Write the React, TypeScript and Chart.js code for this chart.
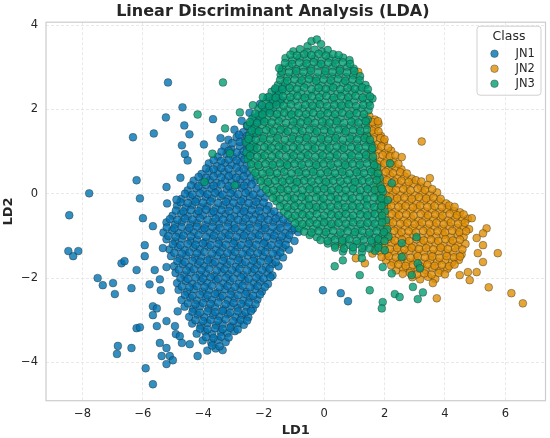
import { useEffect, useRef } from 'react'
import { Chart, registerables } from 'chart.js'

Chart.register(...registerables)

type Pt = [number, number]

const classNames = ['JN1', 'JN2', 'JN3']
const classColors = ['rgba(1, 115, 178, 0.8)', 'rgba(222, 143, 5, 0.8)', 'rgba(2, 158, 115, 0.8)']
const xTicks = [-8, -6, -4, -2, 0, 2, 4, 6]
const yTicks = [-4, -2, 0, 2, 4]

// JN1 - dense diagonal cloud on the left
const jn1Core: Pt[] = [
  [-1.62, 2.47], [-1.38, 2.53],
  [-1.88, 2.28], [-1.6, 2.34], [-1.42, 2.22],
  [-2.12, 2.13], [-1.86, 2.06], [-1.64, 2.15],
  [-2.47, 1.92], [-2.18, 1.87], [-1.96, 1.95],
  [-2.73, 1.73], [-2.44, 1.66], [-2.19, 1.72],
  [-2.97, 1.52], [-2.68, 1.46], [-2.45, 1.55], [-2.2, 1.48],
  [-3.17, 1.28], [-2.9, 1.34], [-2.63, 1.27], [-2.41, 1.33],
  [-3.3, 1.12], [-3.07, 1.06], [-2.8, 1.13], [-2.56, 1.08], [-2.3, 1.12],
  [-3.52, 0.88], [-3.24, 0.94], [-3.01, 0.87], [-2.74, 0.92], [-2.5, 0.86],
  [-3.82, 0.72], [-3.55, 0.66], [-3.29, 0.73], [-3.06, 0.68], [-2.79, 0.74], [-2.56, 0.67],
  [-4.06, 0.47], [-3.81, 0.53], [-3.53, 0.48], [-3.3, 0.52], [-3.04, 0.46], [-2.81, 0.54], [-2.55, 0.49],
  [-4.32, 0.31], [-4.04, 0.27], [-3.79, 0.33], [-3.56, 0.26], [-3.28, 0.32], [-3.06, 0.28], [-2.79, 0.34], [-2.56, 0.27], [-2.29, 0.31],
  [-4.52, 0.08], [-4.24, 0.13], [-4.01, 0.07], [-3.74, 0.12], [-3.51, 0.06], [-3.23, 0.11], [-3.02, 0.09], [-2.74, 0.14], [-2.51, 0.07], [-2.24, 0.12],
  [-4.72, -0.12], [-4.44, -0.07], [-4.21, -0.13], [-3.93, -0.08], [-3.71, -0.11], [-3.44, -0.06], [-3.19, -0.12], [-2.96, -0.08], [-2.68, -0.13], [-2.46, -0.07], [-2.19, -0.11], [-1.96, -0.09],
  [-4.87, -0.28], [-4.59, -0.33], [-4.36, -0.27], [-4.08, -0.32], [-3.86, -0.29], [-3.59, -0.34], [-3.34, -0.27], [-3.11, -0.31], [-2.83, -0.28], [-2.61, -0.33], [-2.34, -0.27], [-2.11, -0.32], [-1.84, -0.29],
  [-5.02, -0.52], [-4.74, -0.47], [-4.51, -0.53], [-4.23, -0.48], [-4.01, -0.51], [-3.74, -0.46], [-3.49, -0.52], [-3.26, -0.48], [-2.98, -0.53], [-2.76, -0.47], [-2.49, -0.51], [-2.26, -0.49], [-1.98, -0.54], [-1.76, -0.47], [-1.49, -0.52],
  [-5.22, -0.68], [-4.94, -0.73], [-4.71, -0.67], [-4.43, -0.72], [-4.21, -0.69], [-3.94, -0.74], [-3.69, -0.67], [-3.46, -0.71], [-3.18, -0.68], [-2.96, -0.73], [-2.69, -0.67], [-2.46, -0.72], [-2.18, -0.69], [-1.96, -0.74], [-1.69, -0.67], [-1.46, -0.71], [-1.21, -0.68],
  [-5.32, -0.92], [-5.04, -0.87], [-4.81, -0.93], [-4.53, -0.88], [-4.31, -0.91], [-4.04, -0.86], [-3.79, -0.92], [-3.56, -0.88], [-3.28, -0.93], [-3.06, -0.87], [-2.79, -0.91], [-2.56, -0.89], [-2.28, -0.94], [-2.06, -0.87], [-1.79, -0.92], [-1.56, -0.88], [-1.29, -0.93], [-1.06, -0.87], [-0.86, -0.91],
  [-5.22, -1.08], [-4.94, -1.13], [-4.71, -1.07], [-4.43, -1.12], [-4.21, -1.09], [-3.94, -1.14], [-3.69, -1.07], [-3.46, -1.11], [-3.18, -1.08], [-2.96, -1.13], [-2.69, -1.07], [-2.46, -1.12], [-2.18, -1.09], [-1.96, -1.14], [-1.69, -1.07], [-1.46, -1.11], [-1.21, -1.08], [-0.98, -1.12],
  [-5.12, -1.32], [-4.84, -1.27], [-4.61, -1.33], [-4.33, -1.28], [-4.11, -1.31], [-3.84, -1.26], [-3.59, -1.32], [-3.36, -1.28], [-3.08, -1.33], [-2.86, -1.27], [-2.59, -1.31], [-2.36, -1.29], [-2.08, -1.34], [-1.86, -1.27], [-1.59, -1.32], [-1.36, -1.28], [-1.16, -1.33],
  [-5.07, -1.48], [-4.79, -1.53], [-4.56, -1.47], [-4.28, -1.52], [-4.06, -1.49], [-3.79, -1.54], [-3.54, -1.47], [-3.31, -1.51], [-3.03, -1.48], [-2.81, -1.53], [-2.54, -1.47], [-2.31, -1.52], [-2.03, -1.49], [-1.81, -1.54], [-1.54, -1.47], [-1.36, -1.51],
  [-4.97, -1.72], [-4.69, -1.67], [-4.46, -1.73], [-4.18, -1.68], [-3.96, -1.71], [-3.69, -1.66], [-3.44, -1.72], [-3.21, -1.68], [-2.93, -1.73], [-2.71, -1.67], [-2.44, -1.71], [-2.21, -1.69], [-1.93, -1.74], [-1.71, -1.67], [-1.51, -1.72],
  [-4.92, -1.88], [-4.64, -1.93], [-4.41, -1.87], [-4.13, -1.92], [-3.91, -1.89], [-3.64, -1.94], [-3.39, -1.87], [-3.16, -1.91], [-2.88, -1.88], [-2.66, -1.93], [-2.39, -1.87], [-2.16, -1.92], [-1.88, -1.89], [-1.71, -1.94],
  [-4.87, -2.12], [-4.59, -2.07], [-4.36, -2.13], [-4.08, -2.08], [-3.86, -2.11], [-3.59, -2.06], [-3.34, -2.12], [-3.11, -2.08], [-2.83, -2.13], [-2.61, -2.07], [-2.34, -2.11], [-2.11, -2.09], [-1.86, -2.14],
  [-4.82, -2.28], [-4.54, -2.33], [-4.31, -2.27], [-4.03, -2.32], [-3.81, -2.29], [-3.54, -2.34], [-3.29, -2.27], [-3.06, -2.31], [-2.78, -2.28], [-2.56, -2.33], [-2.29, -2.27], [-2.06, -2.32],
  [-4.72, -2.52], [-4.44, -2.47], [-4.21, -2.53], [-3.93, -2.48], [-3.71, -2.51], [-3.44, -2.46], [-3.19, -2.52], [-2.96, -2.48], [-2.68, -2.53], [-2.46, -2.47], [-2.21, -2.51],
  [-4.62, -2.68], [-4.34, -2.73], [-4.11, -2.67], [-3.83, -2.72], [-3.61, -2.69], [-3.34, -2.74], [-3.09, -2.67], [-2.86, -2.71], [-2.58, -2.68], [-2.36, -2.73],
  [-4.47, -2.92], [-4.19, -2.87], [-3.96, -2.93], [-3.68, -2.88], [-3.46, -2.91], [-3.19, -2.86], [-2.94, -2.92], [-2.71, -2.88], [-2.51, -2.93],
  [-4.37, -3.08], [-4.09, -3.13], [-3.86, -3.07], [-3.58, -3.12], [-3.36, -3.09], [-3.09, -3.14], [-2.84, -3.07], [-2.66, -3.11],
  [-4.22, -3.32], [-3.94, -3.27], [-3.71, -3.33], [-3.43, -3.28], [-3.21, -3.31], [-2.96, -3.26],
  [-4.02, -3.48], [-3.74, -3.53], [-3.51, -3.47], [-3.26, -3.52],
  [-3.87, -3.72], [-3.59, -3.67], [-3.36, -3.71],
]

const jn1Fill: Pt[] = [
  [-1.5, 2.4], [-1.75, 2.21], [-1.52, 2.18], [-2.0, 2.0], [-1.76, 1.97], [-2.31, 1.8], [-2.06, 1.77],
  [-2.56, 1.61], [-2.32, 1.58], [-2.82, 1.4], [-2.56, 1.37], [-2.31, 1.41], [-3.05, 1.2], [-2.79, 1.23], [-2.54, 1.19],
  [-3.4, 1.0], [-3.16, 1.02], [-2.9, 0.98], [-2.66, 1.01], [-2.41, 0.97],
  [-3.66, 0.8], [-3.41, 0.78], [-3.16, 0.81], [-2.9, 0.79], [-2.64, 0.82],
  [-3.91, 0.6], [-3.66, 0.58], [-3.41, 0.61], [-3.16, 0.59], [-2.9, 0.62], [-2.66, 0.58],
  [-4.16, 0.4], [-3.91, 0.38], [-3.66, 0.41], [-3.41, 0.39], [-3.16, 0.42], [-2.91, 0.38], [-2.66, 0.41], [-2.41, 0.39],
  [-4.41, 0.2], [-4.16, 0.18], [-3.91, 0.21], [-3.66, 0.19], [-3.41, 0.22], [-3.16, 0.18], [-2.9, 0.21], [-2.65, 0.19], [-2.4, 0.22],
  [-4.61, 0.0], [-4.36, -0.02], [-4.11, 0.01], [-3.86, -0.01], [-3.61, 0.02], [-3.36, -0.02], [-3.1, 0.01], [-2.85, -0.01], [-2.6, 0.02], [-2.35, -0.02], [-2.1, 0.01],
  [-4.76, -0.2], [-4.51, -0.22], [-4.26, -0.19], [-4.01, -0.21], [-3.76, -0.18], [-3.51, -0.22], [-3.25, -0.19], [-3.0, -0.21], [-2.75, -0.18], [-2.5, -0.22], [-2.25, -0.19], [-2.0, -0.21],
  [-4.91, -0.4], [-4.66, -0.42], [-4.41, -0.39], [-4.16, -0.41], [-3.91, -0.38], [-3.66, -0.42], [-3.4, -0.39], [-3.15, -0.41], [-2.9, -0.38], [-2.65, -0.42], [-2.4, -0.39], [-2.15, -0.41], [-1.9, -0.38], [-1.65, -0.42],
  [-5.11, -0.6], [-4.86, -0.62], [-4.61, -0.59], [-4.36, -0.61], [-4.11, -0.58], [-3.86, -0.62], [-3.6, -0.59], [-3.35, -0.61], [-3.1, -0.58], [-2.85, -0.62], [-2.6, -0.59], [-2.35, -0.61], [-2.1, -0.58], [-1.85, -0.62], [-1.6, -0.59], [-1.35, -0.61],
  [-5.21, -0.8], [-4.96, -0.82], [-4.71, -0.79], [-4.46, -0.81], [-4.21, -0.78], [-3.96, -0.82], [-3.7, -0.79], [-3.45, -0.81], [-3.2, -0.78], [-2.95, -0.82], [-2.7, -0.79], [-2.45, -0.81], [-2.2, -0.78], [-1.95, -0.82], [-1.7, -0.79], [-1.45, -0.81], [-1.2, -0.78], [-0.98, -0.82],
  [-5.16, -1.0], [-4.91, -1.02], [-4.66, -0.99], [-4.41, -1.01], [-4.16, -0.98], [-3.91, -1.02], [-3.65, -0.99], [-3.4, -1.01], [-3.15, -0.98], [-2.9, -1.02], [-2.65, -0.99], [-2.4, -1.01], [-2.15, -0.98], [-1.9, -1.02], [-1.65, -0.99], [-1.4, -1.01], [-1.15, -0.98],
  [-5.01, -1.2], [-4.76, -1.22], [-4.51, -1.19], [-4.26, -1.21], [-4.01, -1.18], [-3.76, -1.22], [-3.5, -1.19], [-3.25, -1.21], [-3.0, -1.18], [-2.75, -1.22], [-2.5, -1.19], [-2.25, -1.21], [-2.0, -1.18], [-1.75, -1.22], [-1.5, -1.19], [-1.27, -1.21],
  [-4.96, -1.4], [-4.71, -1.42], [-4.46, -1.39], [-4.21, -1.41], [-3.96, -1.38], [-3.71, -1.42], [-3.45, -1.39], [-3.2, -1.41], [-2.95, -1.38], [-2.7, -1.42], [-2.45, -1.39], [-2.2, -1.41], [-1.95, -1.38], [-1.7, -1.42], [-1.45, -1.39],
  [-4.86, -1.6], [-4.61, -1.62], [-4.36, -1.59], [-4.11, -1.61], [-3.86, -1.58], [-3.61, -1.62], [-3.35, -1.59], [-3.1, -1.61], [-2.85, -1.58], [-2.6, -1.62], [-2.35, -1.59], [-2.1, -1.61], [-1.85, -1.58], [-1.6, -1.62],
  [-4.81, -1.8], [-4.56, -1.82], [-4.31, -1.79], [-4.06, -1.81], [-3.81, -1.78], [-3.56, -1.82], [-3.3, -1.79], [-3.05, -1.81], [-2.8, -1.78], [-2.55, -1.82], [-2.3, -1.79], [-2.05, -1.81], [-1.8, -1.78],
  [-4.76, -2.0], [-4.51, -2.02], [-4.26, -1.99], [-4.01, -2.01], [-3.76, -1.98], [-3.51, -2.02], [-3.25, -1.99], [-3.0, -2.01], [-2.75, -1.98], [-2.5, -2.02], [-2.25, -1.99], [-2.0, -2.01], [-1.78, -1.98],
  [-4.71, -2.2], [-4.46, -2.22], [-4.21, -2.19], [-3.96, -2.21], [-3.71, -2.18], [-3.46, -2.22], [-3.2, -2.19], [-2.95, -2.21], [-2.7, -2.18], [-2.45, -2.22], [-2.2, -2.19], [-1.96, -2.21],
  [-4.61, -2.4], [-4.36, -2.42], [-4.11, -2.39], [-3.86, -2.41], [-3.61, -2.38], [-3.36, -2.42], [-3.1, -2.39], [-2.85, -2.41], [-2.6, -2.38], [-2.35, -2.42], [-2.12, -2.39],
  [-4.51, -2.6], [-4.26, -2.62], [-4.01, -2.59], [-3.76, -2.61], [-3.51, -2.58], [-3.26, -2.62], [-3.0, -2.59], [-2.75, -2.61], [-2.5, -2.58], [-2.27, -2.62],
  [-4.36, -2.8], [-4.11, -2.82], [-3.86, -2.79], [-3.61, -2.81], [-3.36, -2.78], [-3.11, -2.82], [-2.85, -2.79], [-2.6, -2.81], [-2.42, -2.78],
  [-4.26, -3.0], [-4.01, -3.02], [-3.76, -2.99], [-3.51, -3.01], [-3.26, -2.98], [-3.01, -3.02], [-2.76, -2.99], [-2.55, -3.01],
  [-4.11, -3.2], [-3.86, -3.22], [-3.61, -3.19], [-3.36, -3.21], [-3.11, -3.18], [-2.86, -3.22],
  [-3.91, -3.4], [-3.66, -3.42], [-3.41, -3.39], [-3.16, -3.41], [-3.71, -3.6], [-3.46, -3.62],
]

const jn1Outliers: Pt[] = [
  [-5.17, 2.64], [-4.69, 2.05], [-5.24, 1.81], [-4.63, 1.62], [-4.46, 1.41], [-6.33, 1.34], [-5.64, 1.43],
  [-4.71, 1.15], [-4.61, 0.94], [-4.52, 0.79], [-3.68, 1.77], [-3.43, 1.32], [-3.98, 1.17],
  [-7.78, 0.01], [-6.21, 0.32], [-5.22, 0.16], [-4.76, 0.38], [-6.1, -0.11], [-5.2, -0.23], [-4.89, -0.14],
  [-8.44, -0.51], [-6.0, -0.58], [-5.67, -0.77], [-5.94, -1.22], [-5.94, -1.48], [-5.34, -1.29],
  [-8.47, -1.36], [-8.31, -1.48], [-8.14, -1.36], [-6.71, -1.65], [-6.61, -1.6], [-6.21, -1.81],
  [-7.5, -2.0], [-7.33, -2.17], [-6.99, -2.12], [-6.93, -2.38], [-6.38, -2.24], [-5.78, -2.15],
  [-5.61, -1.81], [-5.41, -2.29], [-5.44, -2.03], [-5.22, -1.74], [-5.67, -2.67], [-5.54, -2.72],
  [-5.67, -2.88], [-4.85, -2.79], [-6.21, -3.19], [-6.1, -3.17], [-5.54, -3.14], [-5.22, -3.02],
  [-4.94, -3.14], [-4.91, -3.33], [-4.78, -3.38], [-4.71, -3.54], [-4.45, -3.57], [-5.44, -3.54],
  [-5.22, -3.66], [-5.38, -3.85], [-5.11, -3.85], [-5.01, -3.95], [-5.22, -4.04], [-6.83, -3.61],
  [-6.86, -3.8], [-6.38, -3.66], [-5.91, -4.14], [-5.67, -4.52], [-4.19, -3.85],
  [-0.04, -2.29], [0.55, -2.36], [0.79, -2.55],
]

// JN2 - cloud on the right
const jn2Core: Pt[] = [
  [1.5, 1.84], [1.68, 1.76],
  [1.45, 1.63], [1.7, 1.58], [1.8, 1.66],
  [1.42, 1.38], [1.66, 1.43], [1.88, 1.37],
  [1.5, 1.22], [1.74, 1.17], [1.98, 1.23],
  [1.55, 0.98], [1.79, 1.03], [2.03, 0.97], [2.22, 1.02],
  [1.6, 0.82], [1.84, 0.77], [2.08, 0.83], [2.3, 0.78],
  [1.65, 0.58], [1.89, 0.63], [2.13, 0.57], [2.37, 0.62], [2.56, 0.58],
  [1.7, 0.42], [1.94, 0.37], [2.18, 0.43], [2.42, 0.38], [2.67, 0.41], [2.9, 0.36],
  [1.75, 0.18], [1.99, 0.23], [2.23, 0.17], [2.47, 0.22], [2.72, 0.19], [2.96, 0.24], [3.2, 0.17], [3.42, 0.21],
  [1.8, 0.02], [2.04, -0.03], [2.28, 0.03], [2.52, -0.02], [2.77, 0.01], [3.01, -0.04], [3.26, 0.02], [3.5, -0.02], [3.74, 0.03],
  [1.85, -0.18], [2.09, -0.23], [2.33, -0.17], [2.57, -0.22], [2.82, -0.19], [3.06, -0.24], [3.31, -0.17], [3.55, -0.21], [3.8, -0.18], [4.04, -0.23],
  [1.88, -0.42], [2.12, -0.37], [2.36, -0.43], [2.6, -0.38], [2.85, -0.41], [3.09, -0.36], [3.34, -0.42], [3.58, -0.38], [3.83, -0.43], [4.07, -0.37], [4.3, -0.41], [4.5, -0.44],
  [1.92, -0.58], [2.16, -0.63], [2.4, -0.57], [2.64, -0.62], [2.89, -0.59], [3.13, -0.64], [3.38, -0.57], [3.62, -0.61], [3.87, -0.58], [4.11, -0.63], [4.35, -0.57], [4.58, -0.62], [4.76, -0.59],
  [1.96, -0.82], [2.2, -0.77], [2.44, -0.83], [2.68, -0.78], [2.93, -0.81], [3.17, -0.76], [3.42, -0.82], [3.66, -0.78], [3.91, -0.83], [4.15, -0.77], [4.4, -0.81], [4.62, -0.79], [4.8, -0.84],
  [2.0, -0.98], [2.24, -1.03], [2.48, -0.97], [2.72, -1.02], [2.97, -0.99], [3.21, -1.04], [3.46, -0.97], [3.7, -1.01], [3.95, -0.98], [4.19, -1.03], [4.43, -0.97], [4.62, -1.02],
  [1.75, -1.18], [1.99, -1.23], [2.23, -1.17], [2.47, -1.22], [2.72, -1.19], [2.96, -1.24], [3.21, -1.17], [3.45, -1.21], [3.7, -1.18], [3.94, -1.23], [4.19, -1.17], [4.43, -1.22], [4.68, -1.19],
  [1.6, -1.42], [1.84, -1.37], [2.08, -1.43], [2.32, -1.38], [2.57, -1.41], [2.81, -1.36], [3.06, -1.42], [3.3, -1.38], [3.55, -1.43], [3.79, -1.37], [4.04, -1.41], [4.28, -1.39], [4.55, -1.44],
  [2.05, -1.58], [2.29, -1.63], [2.53, -1.57], [2.77, -1.62], [3.02, -1.59], [3.26, -1.64], [3.51, -1.57], [3.75, -1.61], [4.0, -1.58], [4.24, -1.63], [4.46, -1.57],
  [2.38, -1.82], [2.62, -1.77], [2.86, -1.83], [3.1, -1.78], [3.35, -1.81], [3.59, -1.76], [3.84, -1.82], [4.08, -1.78],
  [2.92, -1.98], [3.18, -2.03], [3.44, -1.97], [3.68, -2.02],
]

const jn2Fill: Pt[] = [
  [1.6, 1.7], [1.78, 1.72], [1.58, 1.5], [1.8, 1.48], [1.62, 1.3], [1.86, 1.32], [2.0, 1.29],
  [1.66, 1.1], [1.9, 1.12], [2.12, 1.09], [1.7, 0.9], [1.94, 0.92], [2.18, 0.89], [2.36, 0.91],
  [1.76, 0.7], [2.0, 0.72], [2.24, 0.69], [2.46, 0.71],
  [1.8, 0.5], [2.04, 0.52], [2.28, 0.49], [2.52, 0.51], [2.74, 0.48],
  [1.84, 0.3], [2.08, 0.32], [2.32, 0.29], [2.56, 0.31], [2.8, 0.28], [3.04, 0.32], [3.22, 0.29],
  [1.9, 0.1], [2.14, 0.12], [2.38, 0.09], [2.62, 0.11], [2.86, 0.08], [3.1, 0.12], [3.34, 0.09], [3.58, 0.11],
  [1.94, -0.1], [2.18, -0.08], [2.42, -0.11], [2.66, -0.09], [2.9, -0.12], [3.14, -0.08], [3.38, -0.11], [3.62, -0.09], [3.86, -0.12],
  [1.98, -0.3], [2.22, -0.28], [2.46, -0.31], [2.7, -0.29], [2.94, -0.32], [3.18, -0.28], [3.42, -0.31], [3.66, -0.29], [3.9, -0.32], [4.14, -0.28], [4.32, -0.31],
  [2.0, -0.5], [2.24, -0.48], [2.48, -0.51], [2.72, -0.49], [2.96, -0.52], [3.2, -0.48], [3.44, -0.51], [3.68, -0.49], [3.92, -0.52], [4.16, -0.48], [4.4, -0.51], [4.62, -0.49],
  [2.04, -0.7], [2.28, -0.68], [2.52, -0.71], [2.76, -0.69], [3.0, -0.72], [3.24, -0.68], [3.48, -0.71], [3.72, -0.69], [3.96, -0.72], [4.2, -0.68], [4.44, -0.71], [4.66, -0.69],
  [2.08, -0.9], [2.32, -0.88], [2.56, -0.91], [2.8, -0.89], [3.04, -0.92], [3.28, -0.88], [3.52, -0.91], [3.76, -0.89], [4.0, -0.92], [4.24, -0.88], [4.48, -0.91], [4.7, -0.89],
  [1.86, -1.1], [2.1, -1.08], [2.34, -1.11], [2.58, -1.09], [2.82, -1.12], [3.06, -1.08], [3.3, -1.11], [3.54, -1.09], [3.78, -1.12], [4.02, -1.08], [4.26, -1.11], [4.5, -1.09],
  [1.7, -1.3], [1.94, -1.28], [2.18, -1.31], [2.42, -1.29], [2.66, -1.32], [2.9, -1.28], [3.14, -1.31], [3.38, -1.29], [3.62, -1.32], [3.86, -1.28], [4.1, -1.31], [4.34, -1.29], [4.58, -1.32],
  [1.9, -1.5], [2.14, -1.48], [2.38, -1.51], [2.62, -1.49], [2.86, -1.52], [3.1, -1.48], [3.34, -1.51], [3.58, -1.49], [3.82, -1.52], [4.06, -1.48], [4.3, -1.51], [4.5, -1.49],
  [2.22, -1.7], [2.46, -1.68], [2.7, -1.71], [2.94, -1.69], [3.18, -1.72], [3.42, -1.68], [3.66, -1.71], [3.9, -1.69], [4.14, -1.72], [4.32, -1.68],
  [2.6, -1.9], [2.84, -1.88], [3.08, -1.91], [3.32, -1.89], [3.56, -1.92], [3.8, -1.88], [4.0, -1.91],
]

const jn2Outliers: Pt[] = [
  [1.13, 2.89], [3.23, 1.24], [2.57, 0.87], [3.5, 0.37], [4.89, -0.58], [5.38, -0.82], [5.26, -0.94],
  [5.05, -1.05], [5.26, -1.22], [5.75, -1.41], [5.09, -1.41], [5.26, -1.62], [5.05, -1.86], [4.76, -1.86],
  [4.49, -1.93], [4.82, -2.05], [5.45, -2.22], [6.2, -2.36], [6.58, -2.6], [3.73, -2.48], [3.6, -2.12],
  [0.58, -1.2], [1.05, -1.53], [1.35, -1.65],
]

// JN3 - central cloud, drawn on top
const jn3Core: Pt[] = [
  [-0.55, 3.5], [-0.42, 3.62], [-0.24, 3.66], [-0.1, 3.55],
  [-1.02, 3.38], [-0.8, 3.43], [-0.56, 3.36], [-0.31, 3.42], [-0.07, 3.37], [0.12, 3.41],
  [-1.28, 3.22], [-1.05, 3.17], [-0.81, 3.23], [-0.57, 3.18], [-0.32, 3.21], [-0.08, 3.16], [0.17, 3.22], [0.41, 3.18], [0.63, 3.23], [0.84, 3.17],
  [-1.38, 2.97], [-1.16, 3.02], [-0.93, 2.96], [-0.69, 3.01], [-0.44, 2.98], [-0.2, 3.03], [0.04, 2.97], [0.29, 3.02], [0.53, 2.96], [0.77, 3.01], [0.98, 2.97],
  [-1.44, 2.82], [-1.21, 2.77], [-0.97, 2.83], [-0.73, 2.78], [-0.48, 2.81], [-0.24, 2.76], [0.01, 2.82], [0.25, 2.78], [0.49, 2.83], [0.73, 2.77], [0.97, 2.81], [1.19, 2.79],
  [-1.53, 2.58], [-1.3, 2.63], [-1.06, 2.57], [-0.82, 2.62], [-0.58, 2.59], [-0.33, 2.64], [-0.09, 2.57], [0.16, 2.61], [0.4, 2.58], [0.64, 2.63], [0.88, 2.57], [1.13, 2.62], [1.37, 2.58],
  [-1.74, 2.42], [-1.5, 2.37], [-1.26, 2.43], [-1.02, 2.38], [-0.77, 2.41], [-0.53, 2.36], [-0.28, 2.42], [-0.04, 2.38], [0.21, 2.43], [0.45, 2.37], [0.69, 2.41], [0.94, 2.39], [1.18, 2.44], [1.43, 2.37],
  [-1.93, 2.18], [-1.69, 2.23], [-1.45, 2.17], [-1.21, 2.22], [-0.96, 2.19], [-0.72, 2.24], [-0.47, 2.17], [-0.23, 2.21], [0.02, 2.18], [0.26, 2.23], [0.5, 2.17], [0.75, 2.22], [0.99, 2.19], [1.24, 2.24], [1.48, 2.17], [1.6, 2.26],
  [-2.18, 2.02], [-1.94, 1.97], [-1.7, 2.03], [-1.46, 1.98], [-1.21, 2.01], [-0.97, 1.96], [-0.72, 2.02], [-0.48, 1.98], [-0.23, 2.03], [0.01, 1.97], [0.25, 2.01], [0.5, 1.99], [0.74, 2.04], [0.99, 1.97], [1.23, 2.02], [1.47, 1.98],
  [-2.38, 1.78], [-2.14, 1.83], [-1.9, 1.77], [-1.66, 1.82], [-1.41, 1.79], [-1.17, 1.84], [-0.92, 1.77], [-0.68, 1.81], [-0.43, 1.78], [-0.19, 1.83], [0.06, 1.77], [0.3, 1.82], [0.54, 1.79], [0.79, 1.84], [1.03, 1.77], [1.28, 1.81], [1.44, 1.76],
  [-2.53, 1.62], [-2.29, 1.57], [-2.05, 1.63], [-1.81, 1.58], [-1.56, 1.61], [-1.32, 1.56], [-1.07, 1.62], [-0.83, 1.58], [-0.58, 1.63], [-0.34, 1.57], [-0.09, 1.61], [0.15, 1.59], [0.39, 1.64], [0.64, 1.57], [0.88, 1.62], [1.13, 1.58], [1.37, 1.63],
  [-2.48, 1.38], [-2.24, 1.43], [-2.0, 1.37], [-1.76, 1.42], [-1.51, 1.39], [-1.27, 1.44], [-1.02, 1.37], [-0.78, 1.41], [-0.53, 1.38], [-0.29, 1.43], [-0.04, 1.37], [0.2, 1.42], [0.44, 1.39], [0.69, 1.44], [0.93, 1.37], [1.18, 1.41], [1.42, 1.38],
  [-2.58, 1.22], [-2.34, 1.17], [-2.1, 1.23], [-1.86, 1.18], [-1.61, 1.21], [-1.37, 1.16], [-1.12, 1.22], [-0.88, 1.18], [-0.63, 1.23], [-0.39, 1.17], [-0.14, 1.21], [0.1, 1.19], [0.34, 1.24], [0.59, 1.17], [0.83, 1.22], [1.08, 1.18], [1.32, 1.23], [1.56, 1.17],
  [-2.57, 0.98], [-2.33, 1.03], [-2.09, 0.97], [-1.85, 1.02], [-1.6, 0.99], [-1.36, 1.04], [-1.11, 0.97], [-0.87, 1.01], [-0.62, 0.98], [-0.38, 1.03], [-0.13, 0.97], [0.11, 1.02], [0.35, 0.99], [0.6, 1.04], [0.84, 0.97], [1.09, 1.01], [1.33, 0.98], [1.58, 1.03],
  [-2.53, 0.82], [-2.29, 0.77], [-2.05, 0.83], [-1.81, 0.78], [-1.56, 0.81], [-1.32, 0.76], [-1.07, 0.82], [-0.83, 0.78], [-0.58, 0.83], [-0.34, 0.77], [-0.09, 0.81], [0.15, 0.79], [0.39, 0.84], [0.64, 0.77], [0.88, 0.82], [1.13, 0.78], [1.37, 0.83], [1.62, 0.77],
  [-2.38, 0.58], [-2.14, 0.63], [-1.9, 0.57], [-1.66, 0.62], [-1.41, 0.59], [-1.17, 0.64], [-0.92, 0.57], [-0.68, 0.61], [-0.43, 0.58], [-0.19, 0.63], [0.06, 0.57], [0.3, 0.62], [0.54, 0.59], [0.79, 0.64], [1.03, 0.57], [1.28, 0.61], [1.52, 0.58], [1.76, 0.63],
  [-2.23, 0.42], [-1.99, 0.37], [-1.75, 0.43], [-1.51, 0.38], [-1.26, 0.41], [-1.02, 0.36], [-0.77, 0.42], [-0.53, 0.38], [-0.28, 0.43], [-0.04, 0.37], [0.21, 0.41], [0.45, 0.39], [0.69, 0.44], [0.94, 0.37], [1.18, 0.42], [1.43, 0.38], [1.67, 0.43], [1.84, 0.37],
  [-2.03, 0.18], [-1.79, 0.23], [-1.55, 0.17], [-1.31, 0.22], [-1.06, 0.19], [-0.82, 0.24], [-0.57, 0.17], [-0.33, 0.21], [-0.08, 0.18], [0.16, 0.23], [0.41, 0.17], [0.65, 0.22], [0.89, 0.19], [1.14, 0.24], [1.38, 0.17], [1.63, 0.21], [1.87, 0.18],
  [-1.83, 0.02], [-1.59, -0.03], [-1.35, 0.03], [-1.11, -0.02], [-0.86, 0.01], [-0.62, -0.04], [-0.37, 0.02], [-0.13, -0.02], [0.12, 0.03], [0.36, -0.03], [0.6, 0.01], [0.85, -0.01], [1.09, 0.04], [1.34, -0.03], [1.58, 0.02], [1.83, -0.02], [1.95, 0.05],
  [-1.58, -0.18], [-1.34, -0.23], [-1.1, -0.17], [-0.86, -0.22], [-0.61, -0.19], [-0.37, -0.24], [-0.12, -0.17], [0.12, -0.21], [0.37, -0.18], [0.61, -0.23], [0.86, -0.17], [1.1, -0.22], [1.34, -0.19], [1.59, -0.24], [1.83, -0.17], [2.0, -0.21],
  [-1.33, -0.42], [-1.09, -0.37], [-0.85, -0.43], [-0.61, -0.38], [-0.36, -0.41], [-0.12, -0.36], [0.13, -0.42], [0.37, -0.38], [0.62, -0.43], [0.86, -0.37], [1.11, -0.41], [1.35, -0.39], [1.59, -0.44], [1.84, -0.37], [2.01, -0.42],
  [-1.08, -0.58], [-0.84, -0.63], [-0.6, -0.57], [-0.36, -0.62], [-0.11, -0.59], [0.13, -0.64], [0.38, -0.57], [0.62, -0.61], [0.87, -0.58], [1.11, -0.63], [1.36, -0.57], [1.6, -0.62], [1.84, -0.59], [2.05, -0.63],
  [-0.83, -0.82], [-0.59, -0.77], [-0.35, -0.83], [-0.11, -0.78], [0.14, -0.81], [0.38, -0.76], [0.63, -0.82], [0.87, -0.78], [1.12, -0.83], [1.36, -0.77], [1.61, -0.81], [1.85, -0.79], [2.09, -0.84],
  [-0.48, -0.98], [-0.24, -1.03], [0.0, -0.97], [0.24, -1.02], [0.49, -0.99], [0.73, -1.04], [0.98, -0.97], [1.22, -1.01], [1.47, -0.98], [1.71, -1.03], [1.95, -0.97], [2.13, -1.02],
  [0.12, -1.18], [0.36, -1.23], [0.6, -1.17], [0.84, -1.22], [1.09, -1.19], [1.33, -1.24], [1.58, -1.17], [1.8, -1.21],
  [0.62, -1.37], [0.95, -1.36], [1.25, -1.39], [1.68, -1.35],
]

const jn3Fill: Pt[] = [
  [-1.12, 3.3], [-0.9, 3.28], [-0.66, 3.31], [-0.42, 3.29], [-0.18, 3.32], [0.06, 3.28], [0.3, 3.31], [0.48, 3.29],
  [-1.3, 3.1], [-1.06, 3.08], [-0.82, 3.11], [-0.58, 3.09], [-0.34, 3.12], [-0.1, 3.08], [0.14, 3.11], [0.38, 3.09], [0.62, 3.12], [0.86, 3.08],
  [-1.4, 2.9], [-1.16, 2.88], [-0.92, 2.91], [-0.68, 2.89], [-0.44, 2.92], [-0.2, 2.88], [0.04, 2.91], [0.28, 2.89], [0.52, 2.92], [0.76, 2.88], [1.0, 2.91],
  [-1.46, 2.7], [-1.22, 2.68], [-0.98, 2.71], [-0.74, 2.69], [-0.5, 2.72], [-0.26, 2.68], [-0.02, 2.71], [0.22, 2.69], [0.46, 2.72], [0.7, 2.68], [0.94, 2.71], [1.18, 2.69],
  [-1.62, 2.5], [-1.38, 2.48], [-1.14, 2.51], [-0.9, 2.49], [-0.66, 2.52], [-0.42, 2.48], [-0.18, 2.51], [0.06, 2.49], [0.3, 2.52], [0.54, 2.48], [0.78, 2.51], [1.02, 2.49], [1.26, 2.52], [1.45, 2.48],
  [-1.84, 2.3], [-1.6, 2.28], [-1.36, 2.31], [-1.12, 2.29], [-0.88, 2.32], [-0.64, 2.28], [-0.4, 2.31], [-0.16, 2.29], [0.08, 2.32], [0.32, 2.28], [0.56, 2.31], [0.8, 2.29], [1.04, 2.32], [1.28, 2.28], [1.52, 2.31],
  [-2.06, 2.1], [-1.82, 2.08], [-1.58, 2.11], [-1.34, 2.09], [-1.1, 2.12], [-0.86, 2.08], [-0.62, 2.11], [-0.38, 2.09], [-0.14, 2.12], [0.1, 2.08], [0.34, 2.11], [0.58, 2.09], [0.82, 2.12], [1.06, 2.08], [1.3, 2.11], [1.52, 2.09],
  [-2.28, 1.9], [-2.04, 1.88], [-1.8, 1.91], [-1.56, 1.89], [-1.32, 1.92], [-1.08, 1.88], [-0.84, 1.91], [-0.6, 1.89], [-0.36, 1.92], [-0.12, 1.88], [0.12, 1.91], [0.36, 1.89], [0.6, 1.92], [0.84, 1.88], [1.08, 1.91], [1.32, 1.89],
  [-2.46, 1.7], [-2.22, 1.68], [-1.98, 1.71], [-1.74, 1.69], [-1.5, 1.72], [-1.26, 1.68], [-1.02, 1.71], [-0.78, 1.69], [-0.54, 1.72], [-0.3, 1.68], [-0.06, 1.71], [0.18, 1.69], [0.42, 1.72], [0.66, 1.68], [0.9, 1.71], [1.14, 1.69], [1.38, 1.72],
  [-2.4, 1.5], [-2.16, 1.48], [-1.92, 1.51], [-1.68, 1.49], [-1.44, 1.52], [-1.2, 1.48], [-0.96, 1.51], [-0.72, 1.49], [-0.48, 1.52], [-0.24, 1.48], [0.0, 1.51], [0.24, 1.49], [0.48, 1.52], [0.72, 1.48], [0.96, 1.51], [1.2, 1.49], [1.42, 1.52],
  [-2.5, 1.3], [-2.26, 1.28], [-2.02, 1.31], [-1.78, 1.29], [-1.54, 1.32], [-1.3, 1.28], [-1.06, 1.31], [-0.82, 1.29], [-0.58, 1.32], [-0.34, 1.28], [-0.1, 1.31], [0.14, 1.29], [0.38, 1.32], [0.62, 1.28], [0.86, 1.31], [1.1, 1.29], [1.34, 1.32], [1.52, 1.28],
  [-2.46, 1.1], [-2.22, 1.08], [-1.98, 1.11], [-1.74, 1.09], [-1.5, 1.12], [-1.26, 1.08], [-1.02, 1.11], [-0.78, 1.09], [-0.54, 1.12], [-0.3, 1.08], [-0.06, 1.11], [0.18, 1.09], [0.42, 1.12], [0.66, 1.08], [0.9, 1.11], [1.14, 1.09], [1.38, 1.12], [1.6, 1.08],
  [-2.45, 0.9], [-2.21, 0.88], [-1.97, 0.91], [-1.73, 0.89], [-1.49, 0.92], [-1.25, 0.88], [-1.01, 0.91], [-0.77, 0.89], [-0.53, 0.92], [-0.29, 0.88], [-0.05, 0.91], [0.19, 0.89], [0.43, 0.92], [0.67, 0.88], [0.91, 0.91], [1.15, 0.89], [1.39, 0.92], [1.62, 0.88],
  [-2.42, 0.7], [-2.18, 0.68], [-1.94, 0.71], [-1.7, 0.69], [-1.46, 0.72], [-1.22, 0.68], [-0.98, 0.71], [-0.74, 0.69], [-0.5, 0.72], [-0.26, 0.68], [-0.02, 0.71], [0.22, 0.69], [0.46, 0.72], [0.7, 0.68], [0.94, 0.71], [1.18, 0.69], [1.42, 0.72], [1.66, 0.68],
  [-2.28, 0.5], [-2.04, 0.48], [-1.8, 0.51], [-1.56, 0.49], [-1.32, 0.52], [-1.08, 0.48], [-0.84, 0.51], [-0.6, 0.49], [-0.36, 0.52], [-0.12, 0.48], [0.12, 0.51], [0.36, 0.49], [0.6, 0.52], [0.84, 0.48], [1.08, 0.51], [1.32, 0.49], [1.56, 0.52], [1.78, 0.48],
  [-2.1, 0.3], [-1.86, 0.28], [-1.62, 0.31], [-1.38, 0.29], [-1.14, 0.32], [-0.9, 0.28], [-0.66, 0.31], [-0.42, 0.29], [-0.18, 0.32], [0.06, 0.28], [0.3, 0.31], [0.54, 0.29], [0.78, 0.32], [1.02, 0.28], [1.26, 0.31], [1.5, 0.29], [1.74, 0.32],
  [-1.92, 0.1], [-1.68, 0.08], [-1.44, 0.11], [-1.2, 0.09], [-0.96, 0.12], [-0.72, 0.08], [-0.48, 0.11], [-0.24, 0.09], [0.0, 0.12], [0.24, 0.08], [0.48, 0.11], [0.72, 0.09], [0.96, 0.12], [1.2, 0.08], [1.44, 0.11], [1.68, 0.09], [1.9, 0.12],
  [-1.7, -0.1], [-1.46, -0.12], [-1.22, -0.09], [-0.98, -0.11], [-0.74, -0.08], [-0.5, -0.12], [-0.26, -0.09], [-0.02, -0.11], [0.22, -0.08], [0.46, -0.12], [0.7, -0.09], [0.94, -0.11], [1.18, -0.08], [1.42, -0.12], [1.66, -0.09], [1.9, -0.11],
  [-1.46, -0.3], [-1.22, -0.32], [-0.98, -0.29], [-0.74, -0.31], [-0.5, -0.28], [-0.26, -0.32], [-0.02, -0.29], [0.22, -0.31], [0.46, -0.28], [0.7, -0.32], [0.94, -0.29], [1.18, -0.31], [1.42, -0.28], [1.66, -0.32], [1.9, -0.29],
  [-1.2, -0.5], [-0.96, -0.52], [-0.72, -0.49], [-0.48, -0.51], [-0.24, -0.48], [0.0, -0.52], [0.24, -0.49], [0.48, -0.51], [0.72, -0.48], [0.96, -0.52], [1.2, -0.49], [1.44, -0.51], [1.68, -0.48], [1.92, -0.52],
  [-0.96, -0.7], [-0.72, -0.72], [-0.48, -0.69], [-0.24, -0.71], [0.0, -0.68], [0.24, -0.72], [0.48, -0.69], [0.72, -0.71], [0.96, -0.68], [1.2, -0.72], [1.44, -0.69], [1.68, -0.71], [1.92, -0.68],
  [-0.66, -0.9], [-0.42, -0.92], [-0.18, -0.89], [0.06, -0.91], [0.3, -0.88], [0.54, -0.92], [0.78, -0.89], [1.02, -0.91], [1.26, -0.88], [1.5, -0.92], [1.74, -0.89], [1.98, -0.91],
  [-0.12, -1.1], [0.12, -1.12], [0.36, -1.09], [0.6, -1.11], [0.84, -1.08], [1.08, -1.12], [1.32, -1.09], [1.56, -1.11], [1.8, -1.08], [2.0, -1.12],
  [0.36, -1.28], [0.66, -1.3], [0.96, -1.27], [1.26, -1.29], [1.5, -1.3], [1.8, -1.28],
]

const jn3Outliers: Pt[] = [
  [-3.35, 2.64], [-4.19, 1.88], [-2.79, 1.93], [-3.28, 1.55], [-2.36, 2.1], [-2.03, 2.29], [-1.49, 2.98],
  [-3.7, 0.95], [-3.12, 0.96], [-3.96, 0.28], [-2.96, 0.2],
  [2.24, 0.25], [2.11, -0.15], [2.18, 0.72], [3.06, -1.03], [3.1, -1.65], [3.17, -1.77], [2.9, -1.93],
  [2.94, -2.21], [3.27, -2.34], [2.57, -1.5], [2.24, -1.89], [1.94, -1.74], [1.25, -1.53], [1.18, -1.93],
  [0.62, -1.58], [0.35, -1.72], [1.51, -2.29], [2.34, -2.38], [2.5, -2.45], [3.1, -2.5], [1.94, -2.57],
  [1.91, -2.72], [2.57, -1.17], [2.01, -1.34],
]

const fontFamily = '"DejaVu Sans", "Noto Sans", sans-serif'
const textColor = '#262626'
const edgeColor = 'rgba(35, 35, 35, 0.75)'

const toXY = (pts: Pt[]) => pts.map(([x, y]) => ({ x, y }))
const fmtTick = (v: number) => (v < 0 ? '\u2212' + Math.abs(v) : String(v))

const framePlugin = {
  id: 'plotFrame',
  beforeDatasetsDraw(chart: any) {
    const { ctx, chartArea } = chart
    ctx.save()
    ctx.strokeStyle = '#cccccc'
    ctx.lineWidth = 1.2
    ctx.strokeRect(chartArea.left, chartArea.top, chartArea.right - chartArea.left, chartArea.bottom - chartArea.top)
    ctx.restore()
  },
}

const legendPlugin = {
  id: 'classLegend',
  afterDatasetsDraw(chart: any) {
    const { ctx, chartArea } = chart
    const w = 64
    const h = 69
    const x0 = chartArea.right - 4.5 - w
    const y0 = chartArea.top + 4
    ctx.save()
    ctx.beginPath()
    ctx.roundRect(x0, y0, w, h, 3)
    ctx.fillStyle = 'rgba(255, 255, 255, 0.8)'
    ctx.fill()
    ctx.strokeStyle = '#d0d0d0'
    ctx.lineWidth = 1
    ctx.stroke()
    ctx.fillStyle = textColor
    ctx.textBaseline = 'middle'
    ctx.textAlign = 'center'
    ctx.font = `12.5px ${fontFamily}`
    ctx.fillText('Class', x0 + w / 2, y0 + 10.5)
    classNames.forEach((name, i) => {
      const cy = y0 + 27.5 + i * 15
      ctx.beginPath()
      ctx.arc(x0 + 17.5, cy, 3.8, 0, Math.PI * 2)
      ctx.fillStyle = classColors[i]
      ctx.fill()
      ctx.strokeStyle = edgeColor
      ctx.lineWidth = 0.5
      ctx.stroke()
      ctx.fillStyle = textColor
      ctx.textAlign = 'left'
      ctx.font = `11.5px ${fontFamily}`
      ctx.fillText(name, x0 + 38.5, cy)
    })
    ctx.restore()
  },
}

function LdaScatter() {
  const chartRef = useRef<HTMLCanvasElement>(null)

  useEffect(() => {
    if (!chartRef.current) return
    const ctx = chartRef.current.getContext('2d')
    if (!ctx) return

    const pointStyle = { borderColor: edgeColor, borderWidth: 0.5, pointRadius: 3.9 }
    const tickFont = { family: fontFamily, size: 11.5 }
    const titleFont = { family: fontFamily, size: 13, weight: 'bold' as const }
    const grid = { color: '#e3e3e3', lineWidth: 0.8, drawTicks: false }
    const border = { display: false, dash: [3, 2] }

    const chart = new Chart(ctx, {
      type: 'scatter',
      data: {
        datasets: [
          { label: classNames[0], data: toXY([...jn1Core, ...jn1Fill, ...jn1Outliers]), backgroundColor: classColors[0], order: 3, ...pointStyle },
          { label: classNames[1], data: toXY([...jn2Core, ...jn2Fill, ...jn2Outliers]), backgroundColor: classColors[1], order: 2, ...pointStyle },
          { label: classNames[2], data: toXY([...jn3Core, ...jn3Fill, ...jn3Outliers]), backgroundColor: classColors[2], order: 1, ...pointStyle },
        ],
      },
      options: {
        animation: false,
        responsive: true,
        maintainAspectRatio: false,
        layout: { padding: { left: 0, right: 4.3, top: 0, bottom: 0 } },
        plugins: {
          legend: { display: false },
          tooltip: { enabled: false },
          title: {
            display: true,
            text: 'Linear Discriminant Analysis (LDA)',
            color: textColor,
            font: { family: fontFamily, size: 16, weight: 'bold' },
            padding: { top: 2, bottom: 1 },
          },
        },
        scales: {
          x: {
            type: 'linear',
            min: -9.21,
            max: 7.33,
            afterBuildTicks: (s: any) => { s.ticks = xTicks.map((value) => ({ value })) },
            afterFit: (s: any) => { s.height = 37.3 },
            ticks: { callback: (v: any) => fmtTick(Number(v)), font: tickFont, color: textColor, padding: 6 },
            grid,
            border,
            title: { display: true, text: 'LD1', color: textColor, font: titleFont, padding: { top: 0, bottom: 0 } },
          },
          y: {
            type: 'linear',
            min: -4.91,
            max: 4.07,
            afterBuildTicks: (s: any) => { s.ticks = yTicks.map((value) => ({ value })) },
            afterFit: (s: any) => { s.width = 46 },
            ticks: { callback: (v: any) => fmtTick(Number(v)), font: tickFont, color: textColor, padding: 8 },
            grid,
            border,
            title: { display: true, text: 'LD2', color: textColor, font: titleFont, padding: { top: 1, bottom: 0 } },
          },
        },
      },
      plugins: [framePlugin, legendPlugin],
    })

    return () => chart.destroy()
  }, [])

  return <canvas ref={chartRef} />
}

export default function App() {
  return (
    <div style={{ position: 'fixed', left: 0, top: 0, width: 550, height: 438, background: '#ffffff' }}>
      <LdaScatter />
    </div>
  )
}
